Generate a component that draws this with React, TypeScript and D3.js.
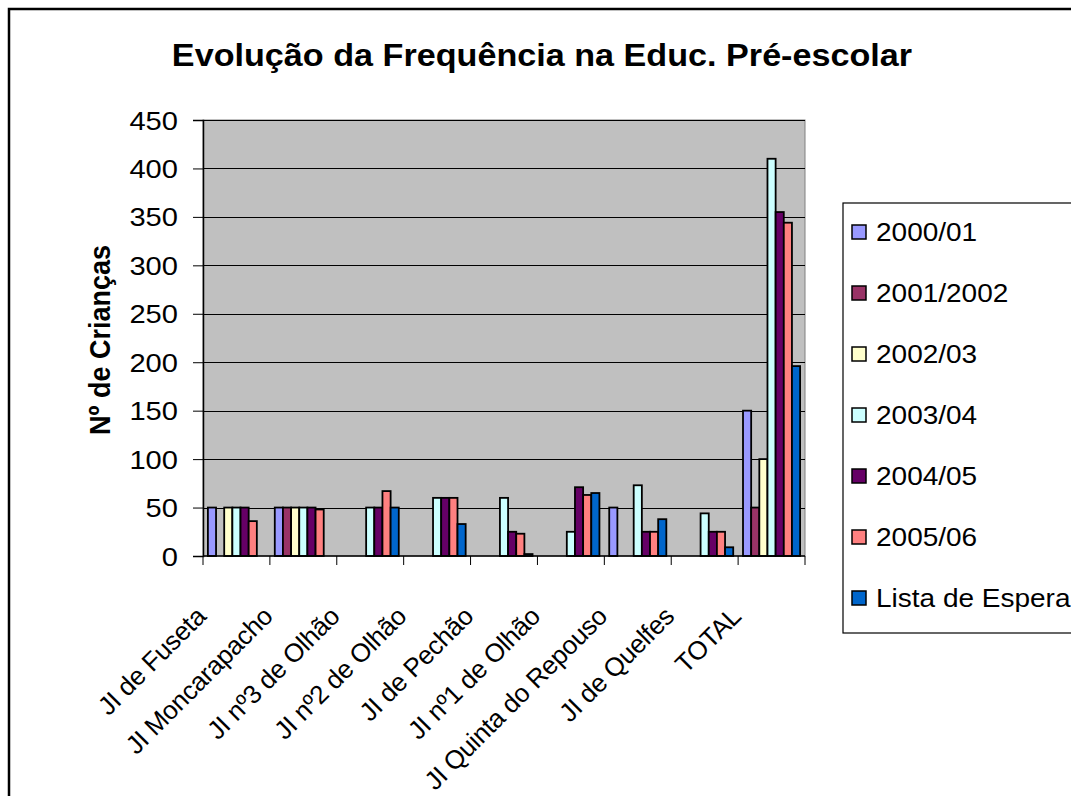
import React, { useEffect, useRef } from 'react';
import * as d3 from 'd3';

const categories = [
  'JI de Fuseta',
  'JI Moncarapacho',
  'JI nº3 de Olhão',
  'JI nº2 de Olhão',
  'JI de Pechão',
  'JI nº1 de Olhão',
  'JI Quinta do Repouso',
  'JI de Quelfes',
  'TOTAL',
];

const seriesNames = ['2000/01', '2001/2002', '2002/03', '2003/04', '2004/05', '2005/06', 'Lista de Espera'];
const seriesColors = ['#9999FF', '#993366', '#FFFFCC', '#CCFFFF', '#660066', '#FF8080', '#0066CC'];

// null = no bar for that school/year
const v2000 = [50, 50, null, null, null, null, 50, null, 150];
const v2001 = [null, 50, null, null, null, null, null, null, 50];
const v2002 = [50, 50, null, null, null, null, null, null, 100];
const v2003 = [50, 50, 50, 60, 60, 25, 73, 44, 410];
const v2004 = [50, 50, 50, 60, 25, 71, 25, 25, 355];
const v2005 = [36, 48, 67, 60, 23, 63, 25, 25, 344];
const vLista = [null, null, 50, 33, 2, 65, 38, 9, 196];

const yTicks = [0, 50, 100, 150, 200, 250, 300, 350, 400, 450];

const title = 'Evolução da Frequência na Educ. Pré-escolar';
const yTitle = 'Nº de Crianças';

const FONT = '"Liberation Sans", Arial, Helvetica, sans-serif';
const SX = 1.12; // the reference is stretched horizontally

const App = () => {
  const ref = useRef<SVGSVGElement>(null);

  useEffect(() => {
    const allSeries = [v2000, v2001, v2002, v2003, v2004, v2005, vLista];
    const svg = d3.select(ref.current);
    svg.selectAll('*').remove();

    const width = 1071, height = 796;
    const plot = { left: 203, right: 805, top: 120, bottom: 556 };

    // outer chart frame (runs off the right and bottom of the page)
    svg.append('rect')
      .attr('x', 9).attr('y', 9)
      .attr('width', width + 20).attr('height', height + 20)
      .attr('fill', '#fff').attr('stroke', '#000').attr('stroke-width', 2.5);

    svg.append('text')
      .attr('transform', `translate(542,66) scale(${SX},1)`)
      .attr('text-anchor', 'middle')
      .style('font-family', FONT).style('font-weight', 'bold').style('font-size', '30.5px')
      .text(title);

    const x = d3.scaleBand<string>()
      .domain(categories)
      .range([plot.left, plot.right])
      .padding(0);

    const xs = d3.scaleBand<string>()
      .domain(seriesNames)
      .range([0, x.bandwidth()])
      .paddingInner(0)
      .paddingOuter(0.6);

    const y = d3.scaleLinear().domain([0, 450]).range([plot.bottom, plot.top]);

    svg.append('rect')
      .attr('x', plot.left).attr('y', plot.top)
      .attr('width', plot.right - plot.left).attr('height', plot.bottom - plot.top)
      .attr('fill', '#C0C0C0').attr('stroke', '#808080').attr('stroke-width', 1);

    // gridlines
    svg.append('g')
      .selectAll('line')
      .data(yTicks.filter(t => t > 0))
      .join('line')
      .attr('x1', plot.left).attr('x2', plot.right)
      .attr('y1', d => Math.round(y(d)) + 0.5).attr('y2', d => Math.round(y(d)) + 0.5)
      .attr('stroke', '#000').attr('stroke-width', 1);

    // bars
    const bars: { cat: string; s: string; v: number; c: string }[] = [];
    allSeries.forEach((vals, si) => {
      vals.forEach((v, ci) => {
        if (v !== null) bars.push({ cat: categories[ci], s: seriesNames[si], v, c: seriesColors[si] });
      });
    });

    svg.append('g')
      .selectAll('rect')
      .data(bars)
      .join('rect')
      .attr('x', d => (x(d.cat) as number) + (xs(d.s) as number))
      .attr('y', d => y(d.v))
      .attr('width', xs.bandwidth())
      .attr('height', d => y(0) - y(d.v))
      .attr('fill', d => d.c)
      .attr('stroke', '#000')
      .attr('stroke-width', 1.8);

    // y axis
    const yAxis = svg.append('g')
      .attr('transform', `translate(${plot.left},0)`)
      .call(d3.axisLeft(y).tickValues(yTicks).tickSize(10).tickFormat(d3.format('d')));
    yAxis.select('.domain').attr('stroke', '#000').attr('stroke-width', 1.5);
    yAxis.selectAll('.tick line').attr('stroke', '#000');
    yAxis.selectAll('.tick text')
      .attr('x', null).attr('dy', null)
      .attr('transform', `translate(-25,9) scale(${SX},1)`)
      .style('font-family', FONT).style('font-size', '26px').attr('fill', '#000');

    // x axis: ticks between categories
    const xAxis = svg.append('g').attr('transform', `translate(0,${plot.bottom})`);
    xAxis.append('line')
      .attr('x1', plot.left).attr('x2', plot.right)
      .attr('y1', 0).attr('y2', 0)
      .attr('stroke', '#000').attr('stroke-width', 1.5);
    xAxis.selectAll('line.tk')
      .data([...categories.map(c => x(c) as number), plot.right])
      .join('line')
      .attr('class', 'tk')
      .attr('x1', d => d).attr('x2', d => d)
      .attr('y1', 0).attr('y2', 9)
      .attr('stroke', '#000');

    xAxis.selectAll('text')
      .data(categories)
      .join('text')
      .attr('transform', d => `translate(${(x(d) as number) + x.bandwidth() / 2 - 29},${62}) rotate(-45)`)
      .attr('text-anchor', 'end')
      .style('font-family', FONT).style('font-size', '26px').style('letter-spacing', '-0.3px')
      .text(d => d);

    svg.append('text')
      .attr('transform', `translate(110,340) scale(${SX},1) rotate(-90)`)
      .attr('text-anchor', 'middle')
      .style('font-family', FONT).style('font-weight', 'bold').style('font-size', '27px')
      .text(yTitle);

    // legend
    const leg = svg.append('g');
    leg.append('rect')
      .attr('x', 843).attr('y', 203)
      .attr('width', 240).attr('height', 430)
      .attr('fill', '#fff').attr('stroke', '#000').attr('stroke-width', 1.2);
    const items = leg.selectAll('g.it')
      .data(seriesNames)
      .join('g')
      .attr('class', 'it')
      .attr('transform', (d, i) => `translate(852,${232 + i * 61})`);
    items.append('rect')
      .attr('x', 0).attr('y', -7).attr('width', 14).attr('height', 14)
      .attr('fill', (d, i) => seriesColors[i]).attr('stroke', '#000').attr('stroke-width', 1.5);
    items.append('text')
      .attr('transform', `translate(24,9) scale(${SX},1)`)
      .style('font-family', FONT).style('font-size', '25px')
      .text(d => d);
  }, []);

  return (
    <svg ref={ref} width={1071} height={796} style={{ position: 'absolute', left: 0, top: 0, background: '#fff' }} />
  );
};

export default App;
